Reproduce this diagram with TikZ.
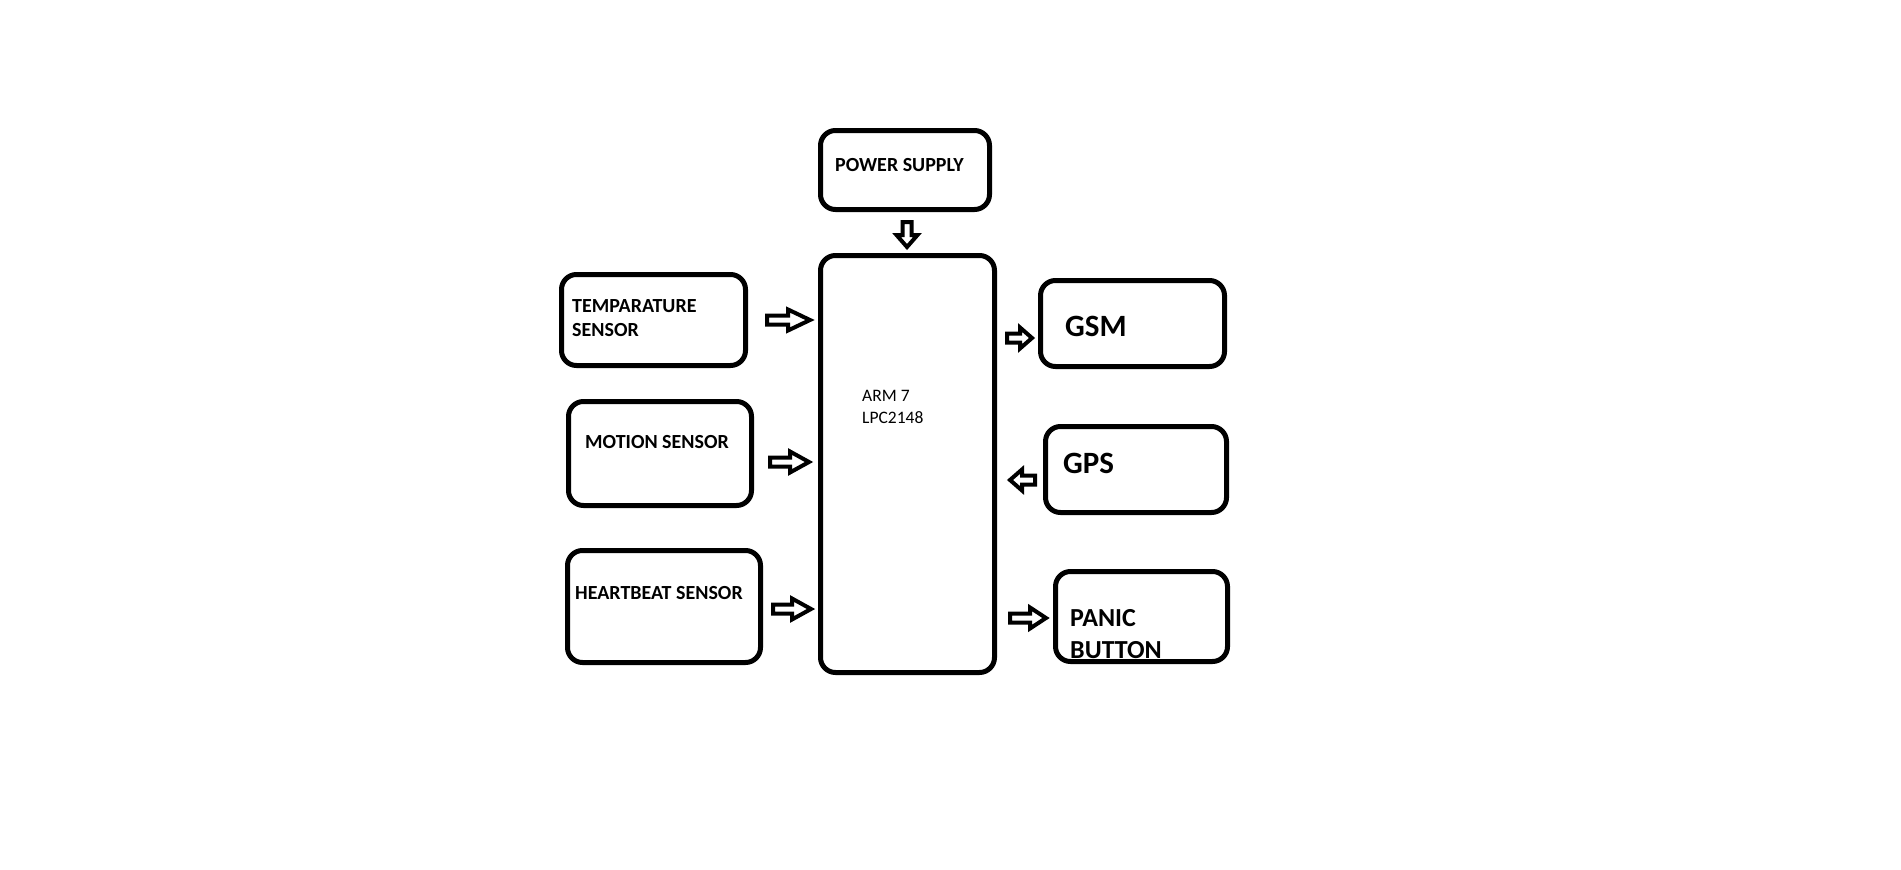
\documentclass[tikz,border=0pt]{standalone}
\usepackage{fontspec}
\setmainfont{Carlito}
\tikzset{
  box/.style={draw=black, line width=5pt, rounded corners=15pt, inner sep=0pt},
  lbl/.style={anchor=base west, inner sep=0pt, font=\bfseries\fontsize{20}{24}\selectfont, align=left},
  biglbl/.style={anchor=base west, inner sep=0pt, font=\bfseries\fontsize{31}{36}\selectfont},
  arrowline/.style={draw=black, line width=4pt, line join=miter},
}
\newcommand{\blockarr}[4]{\draw[arrowline, shift={(#1)}, rotate=#2] (0,-4.5) -- (#4,-4.5) -- (#4,-10.5) -- (#3,0) -- (#4,10.5) -- (#4,4.5) -- (0,4.5) -- cycle;}
\begin{document}
\begin{tikzpicture}[x=1pt,y=-1pt]
\useasboundingbox (0,0) rectangle (1901,870);
% boxes
\node[box, minimum width=169pt, minimum height=79pt] (power) at (905,170) {};
\node[box, minimum width=174pt, minimum height=417pt] (arm) at (907.5,464) {};
\node[box, minimum width=184pt, minimum height=91pt] (temp) at (653.5,320) {};
\node[box, minimum width=183pt, minimum height=104pt] (motion) at (660,453.5) {};
\node[box, minimum width=193pt, minimum height=112pt] (heart) at (664,606.5) {};
\node[box, minimum width=184pt, minimum height=86pt] (gsm) at (1132.5,323.5) {};
\node[box, minimum width=181pt, minimum height=86pt] (gps) at (1136,469.5) {};
\node[box, minimum width=172pt, minimum height=90pt] (panic) at (1141.5,616.5) {};
% labels (multi-line nodes: base = last line)
\node[lbl] (powert) at (835,171) {POWER SUPPLY};
\node[lbl] (tempt) at (572,336) {TEMPARATURE\\SENSOR};
\node[lbl] (motiont) at (585,448) {MOTION SENSOR};
\node[lbl] (heartt) at (575,599) {HEARTBEAT SENSOR};
\node[anchor=base west, inner sep=0pt, font=\fontsize{17.5}{22}\selectfont, align=left] (armt) at (862,423) {ARM 7\\LPC2148};
\node[biglbl] (gsmt) at (1065,336) {GSM};
\node[biglbl] (gpst) at (1063,473) {GPS};
\node[anchor=base west, inner sep=0pt, font=\bfseries\fontsize{26}{32}\selectfont, align=left] (panict) at (1070,658) {PANIC\\BUTTON};
% arrow start points
\coordinate (pa) at (907,222);
\coordinate (ta) at (767,320);
\coordinate (ma) at (770,462);
\coordinate (ha) at (773,609);
\coordinate (ga) at (1007,338);
\coordinate (pe) at (1035,480);
\coordinate (pb) at (1010,618);
\blockarr{pa}{-90}{25}{13}
\blockarr{ta}{0}{43}{21}
\blockarr{ma}{0}{39}{20}
\blockarr{ha}{0}{38}{19}
\blockarr{ga}{0}{25}{13}
\blockarr{pe}{180}{25}{13}
\blockarr{pb}{0}{36}{20}
\end{tikzpicture}
\end{document}
